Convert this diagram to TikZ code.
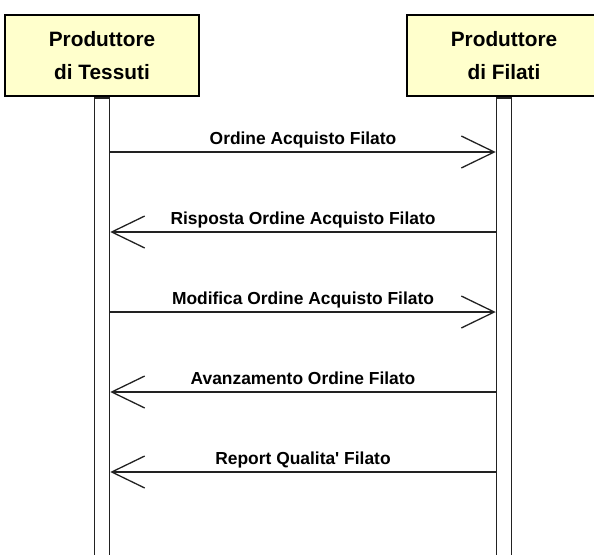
\documentclass[tikz,border=0pt]{standalone}
\usepackage{fontspec}
\setmainfont{Liberation Sans}
\usetikzlibrary{arrows.meta,positioning}
\definecolor{actorfill}{HTML}{FFFFCC}
\definecolor{lineink}{HTML}{222222}

\tikzset{
  actor/.style={draw=black, line width=2.5pt, fill=actorfill, minimum width=194pt,
    minimum height=81pt, align=center, font=\fontsize{20.8}{33}\selectfont\bfseries},
  lifebar/.style={draw=lineink, line width=1.5pt, fill=white, minimum width=15pt,
    minimum height=470pt, inner sep=0pt},
  msg/.style={draw=lineink, line width=1.3pt, -{Straight Barb[length=33pt,width=32pt]}},
  msglabel/.style={font=\fontsize{17.4}{20}\selectfont\bfseries, inner sep=0pt,
    anchor=base, yshift=8pt}
}

\begin{document}
\begin{tikzpicture}[x=1pt,y=-1pt]
    \clip (0,0) rectangle (594,554);
    % partecipanti
    \node [actor] (tessuti) at (102,55.5) {Produttore\\di Tessuti};
    \node [actor] (filati) at (504,55.5) {Produttore\\di Filati};
    \node [lifebar, anchor=north] (bt) at (tessuti.south) {};
    \node [lifebar, anchor=north] (bf) at (filati.south) {};
    % punti dei messaggi
    \coordinate (t1) at (bt.east |- 0,152);
    \coordinate (f1) at (bf.west |- 0,152);
    \coordinate (t2) at (bt.east |- 0,232);
    \coordinate (f2) at (bf.west |- 0,232);
    \coordinate (t3) at (bt.east |- 0,312);
    \coordinate (f3) at (bf.west |- 0,312);
    \coordinate (t4) at (bt.east |- 0,392);
    \coordinate (f4) at (bf.west |- 0,392);
    \coordinate (t5) at (bt.east |- 0,472);
    \coordinate (f5) at (bf.west |- 0,472);
    % messaggi
    \draw [msg] (t1) -- node [msglabel] (m1) {Ordine Acquisto Filato} (f1);
    \draw [msg] (f2) -- node [msglabel] (m2) {Risposta Ordine Acquisto Filato} (t2);
    \draw [msg] (t3) -- node [msglabel] (m3) {Modifica Ordine Acquisto Filato} (f3);
    \draw [msg] (f4) -- node [msglabel] (m4) {Avanzamento Ordine Filato} (t4);
    \draw [msg] (f5) -- node [msglabel] (m5) {Report Qualita\textquotesingle{} Filato} (t5);
\end{tikzpicture}
\end{document}
